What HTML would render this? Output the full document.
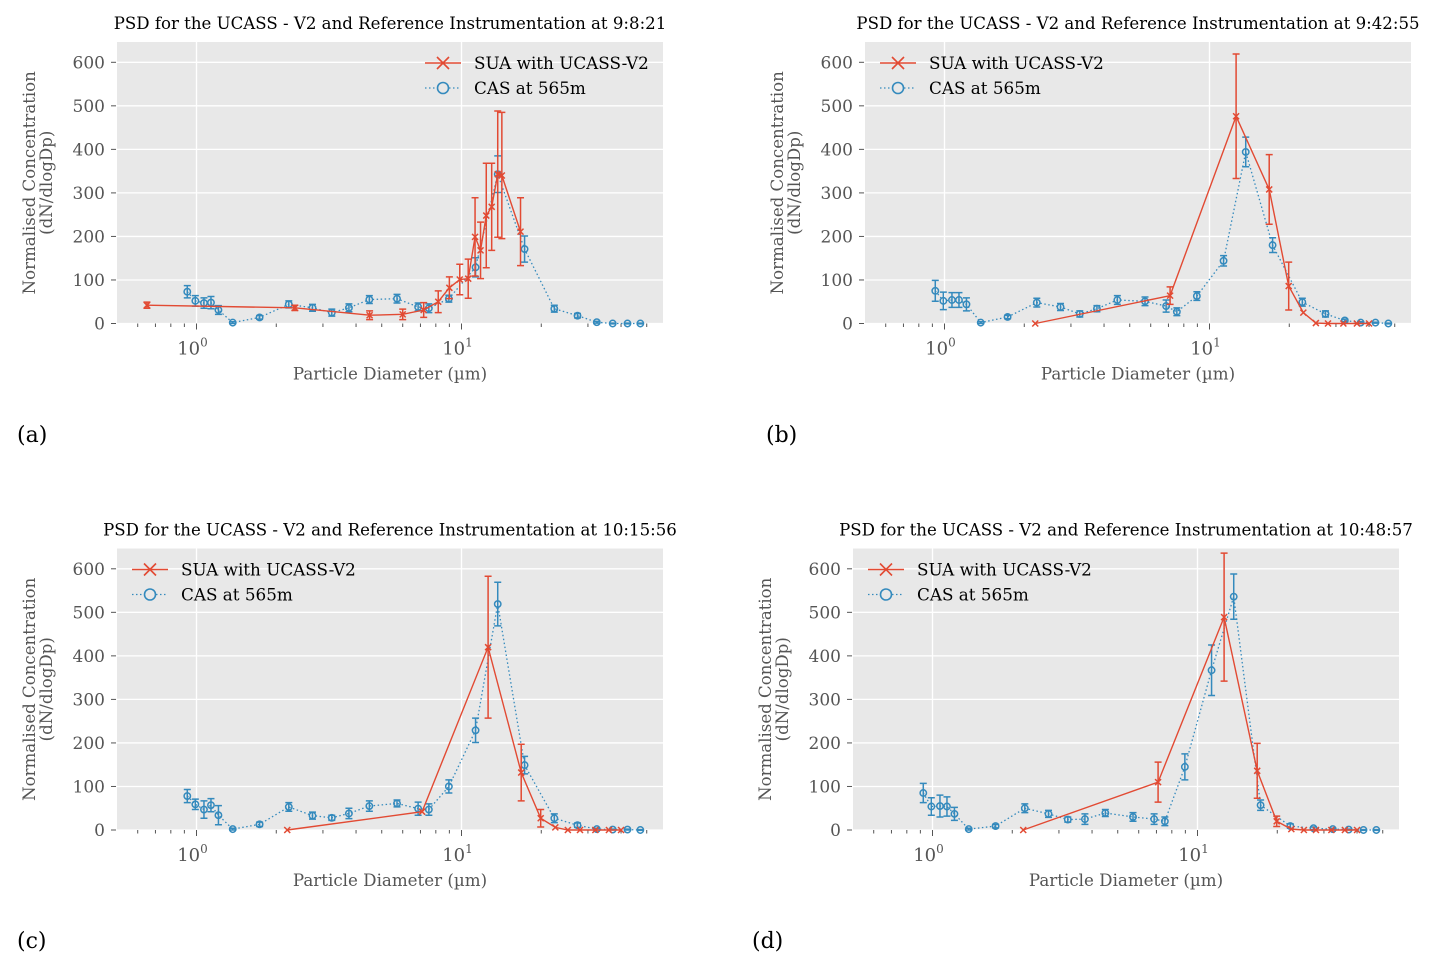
<!DOCTYPE html>
<html><head><meta charset="utf-8">
<style>
body{margin:0;background:#fff;}
svg{display:block;font-family:"DejaVu Serif","Liberation Serif",serif;}
</style></head>
<body>
<svg id="fig" width="1441" height="973" xmlns="http://www.w3.org/2000/svg"></svg>
<script>
// ---- data ----
const casX = [0.923,0.99,1.067,1.134,1.21,1.37,1.73,2.23,2.74,3.24,3.76,4.49,5.71,6.86,7.53,8.96,11.3,13.7,17.3,22.4,27.4,32.4,37.2,42.3,47.3];
const casA = [73,52,47,48,31,2,14,44,36,25,36,55,57,38,35,57,129,343,171,34,18,3,0,0,0];
const casAErr = [14,12,12,14,10,2,4,8,8,8,9,9,10,9,10,8,22,42,30,8,5,2,1,1,1];
const casB = [75,52,54,54,44,2,15,48,38,22,34,54,51,40,27,63,144,394,180,49,22,7,2,2,0];
const casBErr = [24,20,17,17,15,2,4,10,8,7,7,10,10,14,9,10,12,34,17,9,7,3,2,1,1];
const casC = [78,59,47,57,34,2,13,53,33,28,38,55,61,49,47,100,229,519,149,27,11,2,1,1,0];
const casCErr = [15,12,20,15,22,2,5,10,8,6,12,12,8,15,13,15,28,50,20,10,5,2,1,1,1];
const casD = [85,54,55,54,37,2,9,50,37,24,25,39,30,25,20,145,367,536,57,9,4,2,1,0,0];
const casDErr = [22,20,25,22,15,2,4,10,8,6,12,8,10,12,10,30,58,52,12,5,3,2,1,1,1];

const suaXA = [0.65,2.35,4.5,6.0,7.2,8.17,9.0,9.85,10.6,11.25,11.8,12.4,13.0,13.7,14.2,16.7];
const suaA = [42,36,19,21,31,50,82,101,103,199,168,248,268,343,340,211];
const suaAErr = [7,6,10,12,17,25,25,35,45,90,65,120,100,145,145,78];
const suaX = [2.2,7.1,12.6,16.8,19.9,22.6,25.2,28,32,36,40];
const suaB = [0,64,476,308,86,25,1,0,0,0,0];
const suaBErr = [0,20,143,80,55,0,0,0,0,0,0];
const suaC = [0,42,420,132,27,6,0,0,0,0,0];
const suaCErr = [0,0,163,65,20,0,0,0,0,0,0];
const suaD = [0,110,489,136,20,2,0,0,0,0,0];
const suaDErr = [0,46,147,63,12,0,0,0,0,0,0];

const yTicks = [0,100,200,300,400,500,600];
const titles = ["PSD for the UCASS - V2 and Reference Instrumentation at 9:8:21",
 "PSD for the UCASS - V2 and Reference Instrumentation at 9:42:55",
 "PSD for the UCASS - V2 and Reference Instrumentation at 10:15:56",
 "PSD for the UCASS - V2 and Reference Instrumentation at 10:48:57"];
const panelLabels = ["(a)","(b)","(c)","(d)"];

// ---- layout ----
const panels = [
 {left:117, top:42, bottom:323.5, legendRight:true, lab:[17,442], name:'a', cas:casA, casE:casAErr, sx:suaXA, sua:suaA, suaE:suaAErr},
 {left:865, top:42, bottom:323.5, legendRight:false, lab:[766,442], name:'b', cas:casB, casE:casBErr, sx:suaX, sua:suaB, suaE:suaBErr},
 {left:117, top:548.5, bottom:830, legendRight:false, lab:[17,948], name:'c', cas:casC, casE:casCErr, sx:suaX, sua:suaC, suaE:suaCErr},
 {left:853, top:548.5, bottom:830, legendRight:false, lab:[752,948], name:'d', cas:casD, casE:casDErr, sx:suaX, sua:suaD, suaE:suaDErr}
];
const W = 546, DEC = 265;
const NS = "http://www.w3.org/2000/svg";
const svg = document.getElementById('fig');
function mk(tag, attrs, parent, text){
  const e = document.createElementNS(NS, tag);
  for (const k in attrs) e.setAttribute(k, attrs[k]);
  if (text !== undefined) e.textContent = text;
  (parent||svg).appendChild(e);
  return e;
}
const RED = "#E24A33", BLUE = "#348ABD";

panels.forEach((p, i) => {
  const g = mk('g', {});
  
  
  const x0 = p.left + 0.3 * DEC;
  const xs = v => x0 + Math.log10(v) * DEC;
  const ys = v => p.bottom - v * 261.2 / 600;
  const bg = mk('rect', {x:p.left, y:p.top, width:W, height:p.bottom - p.top, fill:'#E8E8E8'}, g);
  
  
  yTicks.forEach(t => {
    mk('line', {x1:p.left, x2:p.left+W, y1:ys(t), y2:ys(t), stroke:'#fff', 'stroke-width':1.3}, g);
    mk('line', {x1:p.left-6, x2:p.left-1, y1:ys(t), y2:ys(t), stroke:'#555', 'stroke-width':1}, g);
    const tl = mk('text', {x:p.left-12, y:ys(t)+6, 'text-anchor':'end', 'font-size':17, fill:'#555'}, g, String(t));
    
    
  });
  [1,10].forEach((v, k) => {
    mk('line', {x1:xs(v), x2:xs(v), y1:p.top, y2:p.bottom, stroke:'#fff', 'stroke-width':1.3}, g);
    mk('line', {x1:xs(v), x2:xs(v), y1:p.bottom, y2:p.bottom+6, stroke:'#555', 'stroke-width':1}, g);
    const tl = mk('text', {x:xs(v)-4, y:p.bottom+31, 'text-anchor':'middle', 'font-size':18, fill:'#555'}, g);
    
    
    tl.appendChild(document.createTextNode('10'));
    mk('tspan', {dy:-8, 'font-size':12}, tl, String(k));
  });
  const minors = [0.6,0.7,0.8,0.9,2,3,4,5,6,7,8,9,20,30,40,50];
  minors.forEach(v => mk('line', {x1:xs(v), x2:xs(v), y1:p.bottom, y2:p.bottom+3.5, stroke:'#555', 'stroke-width':1}, g));
  const cx = p.left + W/2;
  const tt = mk('text', {x:cx, y:p.top-13, 'text-anchor':'middle', 'font-size':16.6, fill:'#000'}, g, titles[i]);
  
  
  const xl = mk('text', {x:cx, y:p.bottom+56, 'text-anchor':'middle', 'font-size':16.7, fill:'#555'}, g, 'Particle Diameter (µm)');
  
  
  const ymid = (p.top + p.bottom)/2;
  const yl = mk('text', {transform:`translate(${p.left-82},${ymid}) rotate(-90)`, 'text-anchor':'middle', 'font-size':16.6, fill:'#555'}, g);
  
  
  mk('tspan', {x:0, dy:0}, yl, 'Normalised Concentration');
  mk('tspan', {x:0, dy:17}, yl, '(dN/dlogDp)');
  const pl = mk('text', {x:p.lab[0], y:p.lab[1], 'font-size':22, fill:'#000'}, g, panelLabels[i]);
  
  

  const cid = 'clip' + i;
  const cp = mk('clipPath', {id:cid}, g);
  mk('rect', {x:p.left, y:p.top-20, width:W, height:p.bottom-p.top+25}, cp);
  const dg = mk('g', {'clip-path':`url(#${cid})`}, g);

  function errbars(xarr, yarr, earr, color, nm){
    xarr.forEach((xv, j) => {
      const e = earr[j]; if (!e) return;
      const X = xs(xv), y1 = ys(yarr[j]-e), y2 = ys(yarr[j]+e);
      const eb = mk('path', {d:`M${X},${y1}V${y2}M${X-3.5},${y1}H${X+3.5}M${X-3.5},${y2}H${X+3.5}`, stroke:color, 'stroke-width':1.5, fill:'none'}, dg);
      
      
    });
  }
  errbars(casX, p.cas, p.casE, BLUE, 'cas');
  const cl = mk('polyline', {points:casX.map((v,j)=>xs(v)+','+ys(p.cas[j])).join(' '), fill:'none', stroke:BLUE, 'stroke-width':1.3, 'stroke-dasharray':'1.5,2.5'}, dg);
  
  
  casX.forEach((v,j) => {
    const c = mk('circle', {cx:xs(v), cy:ys(p.cas[j]), r:3.2, fill:'none', stroke:BLUE, 'stroke-width':1.5}, dg);
    
    
  });
  errbars(p.sx, p.sua, p.suaE, RED, 'sua');
  const sl = mk('polyline', {points:p.sx.map((v,j)=>xs(v)+','+ys(p.sua[j])).join(' '), fill:'none', stroke:RED, 'stroke-width':1.4}, dg);
  
  
  p.sx.forEach((v,j) => {
    const X = xs(v), Y = ys(p.sua[j]);
    const m = mk('path', {d:`M${X-3},${Y-3}L${X+3},${Y+3}M${X-3},${Y+3}L${X+3},${Y-3}`, stroke:RED, 'stroke-width':1.5}, dg);
    
    
  });

  const lx = p.legendRight ? p.left + 308 : p.left + 15;
  const ly1 = p.top + 21, ly2 = p.top + 46;
  const lg = mk('g', {}, g);
  
  
  mk('line', {x1:lx, x2:lx+36, y1:ly1, y2:ly1, stroke:RED, 'stroke-width':1.4}, lg);
  mk('path', {d:`M${lx+12},${ly1-6}L${lx+24},${ly1+6}M${lx+12},${ly1+6}L${lx+24},${ly1-6}`, stroke:RED, 'stroke-width':1.6}, lg);
  const le1 = mk('text', {x:lx+49, y:ly1+6, 'font-size':16.8, fill:'#000'}, lg, 'SUA with UCASS-V2');
  
  
  mk('line', {x1:lx, x2:lx+36, y1:ly2, y2:ly2, stroke:BLUE, 'stroke-width':1.3, 'stroke-dasharray':'1.5,2.5'}, lg);
  mk('circle', {cx:lx+18, cy:ly2, r:5.5, fill:'#E8E8E8', stroke:BLUE, 'stroke-width':1.6}, lg);
  const le2 = mk('text', {x:lx+49, y:ly2+6, 'font-size':16.8, fill:'#000'}, lg, 'CAS at 565m');
  
  
});
</script>
</body></html>
